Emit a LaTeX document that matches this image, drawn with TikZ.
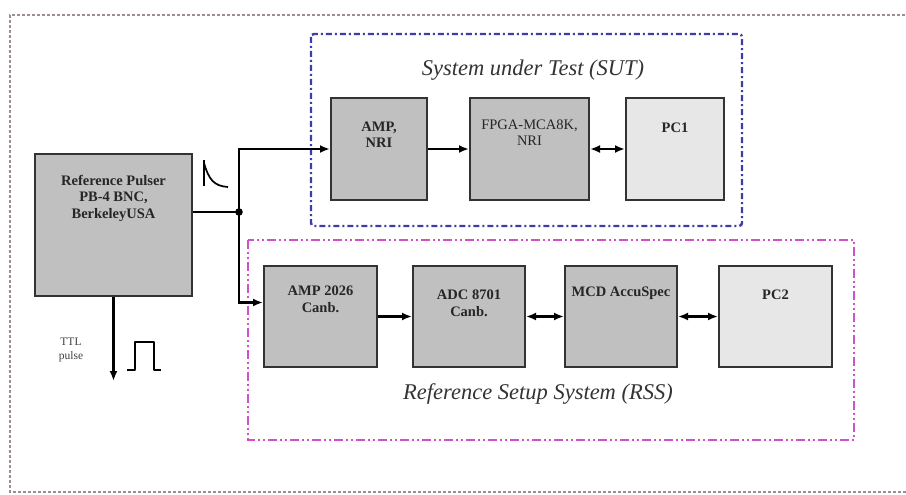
\documentclass[tikz,border=0pt]{standalone}
\usepackage{fontspec}
\setmainfont{Liberation Serif}
\usetikzlibrary{arrows.meta, positioning}

\definecolor{boxgray}{RGB}{192,192,192}
\definecolor{pcgray}{RGB}{231,231,231}
\definecolor{sutblue}{RGB}{60,60,170}
\definecolor{rssmag}{RGB}{206,82,206}
\definecolor{framegray}{RGB}{160,140,148}

\begin{document}
\begin{tikzpicture}[x=1pt, y=-1pt,
        blk/.style={draw=black!80, line width=2pt, fill=boxgray, minimum width=#1, minimum height=101pt, inner sep=0pt},
        pcblk/.style={blk=#1, fill=pcgray},
        lbl/.style={align=center, inner sep=0pt, text=black!85, font=\fontsize{14.5}{16.5}\selectfont\bfseries},
        title/.style={text=black!80, font=\fontsize{22.5}{26}\selectfont\itshape},
        sig/.style={draw, line width=2.4pt, -{Latex[length=10pt,width=8pt]}},
        bisig/.style={draw, line width=2.4pt, {Latex[length=10pt,width=8pt]}-{Latex[length=10pt,width=8pt]}},
        pulseline/.style={line width=1.7pt, line join=round}]
    \useasboundingbox (0,0) rectangle (906,495);

    % outer frame, open on the right
    \draw[framegray, line width=2.6pt, dash pattern=on 2.6pt off 2.4pt]
        (910,15) -- (10,15) -- (10,492) -- (910,492);

    % groups
    \draw[sutblue, line width=2.4pt, rounded corners=3pt, dash pattern=on 6pt off 3pt on 2pt off 3pt]
        (311,34) rectangle (742,226);
    \draw[rssmag, line width=2.8pt, dash pattern=on 9pt off 3pt on 2pt off 3pt on 2pt off 3pt]
        (248,240) rectangle (854,440);
    \node[title] (sut) at (533,70) {System under Test (SUT)};
    \node[title] (rss) at (538,394) {Reference Setup System (RSS)};

    % blocks
    \node[blk=157pt, minimum height=142pt] (pulser) at (113.5,225) {};
    \node[blk=96pt] (ampnri) at (379,149) {};
    \node[blk=119pt] (fpga) at (529.5,149) {};
    \node[pcblk=98pt] (pc1) at (675,149) {};
    \node[blk=113pt] (amp) at (320.5,316.5) {};
    \node[blk=112pt] (adc) at (469,316.5) {};
    \node[blk=112pt] (mcd) at (621,316.5) {};
    \node[pcblk=113pt] (pc2) at (775.5,316.5) {};

    \node[lbl, below=22pt of pulser.north] (pulserlbl) {Reference Pulser\\PB-4 BNC,\\BerkeleyUSA};
    \node[lbl, below=24pt of ampnri.north] (ampnrilbl) {AMP,\\NRI};
    \node[lbl, font=\fontsize{14.5}{16.5}\selectfont, below=22pt of fpga.north] (fpgalbl) {FPGA-MCA8K,\\NRI};
    \node[lbl, below=25pt of pc1.north] (pc1lbl) {PC1};
    \node[lbl, below=21pt of amp.north] (amplbl) {AMP 2026\\Canb.};
    \node[lbl, below=25pt of adc.north] (adclbl) {ADC 8701\\Canb.};
    \node[lbl, below=22pt of mcd.north] (mcdlbl) {MCD AccuSpec};
    \node[lbl, below=25pt of pc2.north] (pc2lbl) {PC2};

    % branch point and TTL output
    \coordinate (j) at (239,212);
    \coordinate (ttl) at (113.5,381);
    \fill (j) circle (3.8pt);
    \node[align=center, inner sep=0pt, text=black!75, font=\fontsize{11.5}{14}\selectfont] (ttllbl) at (71,350) {TTL\\pulse};

    \draw[line width=2.4pt] (pulser.east |- j) -- (j);
    \draw[sig] (j) |- (ampnri.west);
    \draw[sig] (j) |- ([yshift=14pt]amp.west);
    \draw[sig] (pulser.south) -- (ttl);

    \draw[sig] (ampnri) -- (fpga);
    \draw[sig] (amp) -- (adc);
    \draw[bisig] (fpga) -- (pc1);
    \draw[bisig] (adc) -- (mcd);
    \draw[bisig] (mcd) -- (pc2);

    % pulse shapes
    \draw[pulseline] (204,186) -- (204,160);
    \draw[pulseline] (204,163) .. controls (209,180) and (214,186) .. (228,187);
    \draw[pulseline] (127,370) -- (135,370) -- (135,342) -- (154,342) -- (154,370) -- (161,370);
\end{tikzpicture}
\end{document}
